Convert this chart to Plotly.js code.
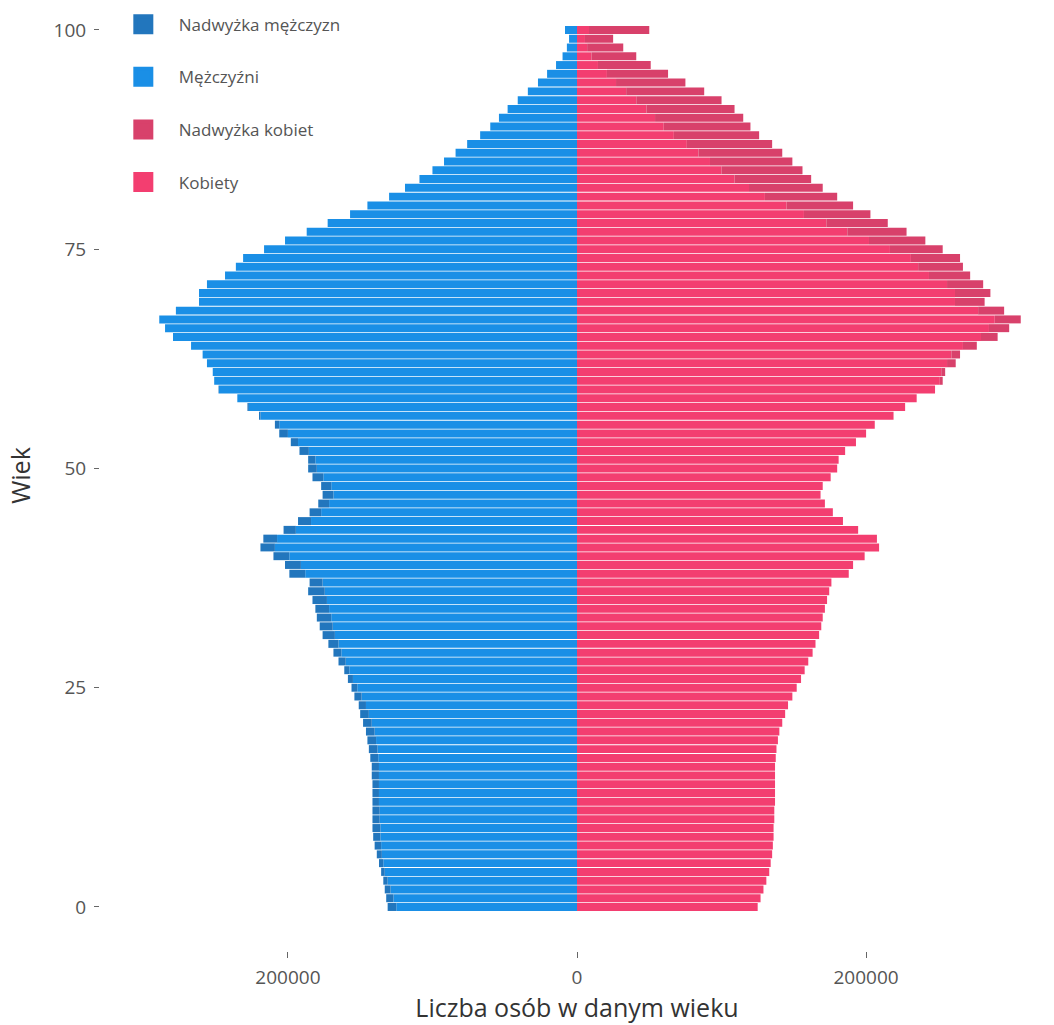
<!DOCTYPE html>
<html>
<head>
<meta charset="utf-8">
<script src="https://cdn.plot.ly/plotly-3.0.1.min.js"></script>
<style>
  html, body { margin: 0; padding: 0; background: #ffffff; }
  #chart { width: 1054px; height: 1025px; }
</style>
</head>
<body>
<div id="chart"></div>
<script>
// Age categories (0 ... 100)
const ages = [
  0, 1, 2, 3, 4, 5, 6, 7, 8, 9,
  10, 11, 12, 13, 14, 15, 16, 17, 18, 19,
  20, 21, 22, 23, 24, 25, 26, 27, 28, 29,
  30, 31, 32, 33, 34, 35, 36, 37, 38, 39,
  40, 41, 42, 43, 44, 45, 46, 47, 48, 49,
  50, 51, 52, 53, 54, 55, 56, 57, 58, 59,
  60, 61, 62, 63, 64, 65, 66, 67, 68, 69,
  70, 71, 72, 73, 74, 75, 76, 77, 78, 79,
  80, 81, 82, 83, 84, 85, 86, 87, 88, 89,
  90, 91, 92, 93, 94, 95, 96, 97, 98, 99,
  100
];

// Number of men at each age
const men = [
  131000, 132000, 133000, 134000, 135500, 137000, 138500, 140000, 141000, 141500,
  141500, 141500, 141500, 141500, 141500, 142000, 142000, 143000, 144000, 145000,
  146000, 148000, 150000, 151000, 154000, 156000, 158500, 161000, 165000, 168500,
  172000, 176000, 178000, 180000, 181000, 183000, 186000, 185000, 199000, 202000,
  210000, 219000, 217000, 203000, 193000, 185000, 179000, 176000, 177000, 183000,
  186000, 186000, 192000, 198000, 206000, 209000, 220000, 228000, 235000, 248000,
  251000, 252000, 256000, 259000, 267000, 279500, 285000, 289000, 277500, 261500,
  261500, 256000, 243500, 236000, 231000, 216500, 202000, 187000, 172500, 157000,
  145000, 130000, 119000, 109000, 100000, 92000, 84000, 76000, 67000, 60000,
  54000, 48000, 41000, 34000, 27000, 20700, 14500, 10000, 7000, 5500,
  8300
];

// Number of women at each age
const women = [
  125000, 127000, 129000, 131000, 133000, 134000, 135000, 135500, 136000, 136000,
  136500, 136500, 137000, 137000, 137000, 137000, 137000, 137500, 138000, 139000,
  140000, 142000, 144000, 146000, 149000, 152000, 155000, 157500, 160000, 163000,
  165000, 167500, 169000, 170000, 171500, 173000, 174500, 176000, 188000, 191000,
  199000, 209000, 207500, 194500, 184000, 177000, 171500, 168500, 170000, 175500,
  180000, 181000, 185500, 193000, 200000, 206000, 219000, 227000, 235000, 247700,
  253000, 254700, 262000, 265000, 276600, 291000, 299000, 307000, 295500, 282000,
  286000, 281000, 272000, 267000, 265000, 253000, 241000, 228000, 215000, 203000,
  191000, 180000, 170000, 162000, 156000, 149000, 142000, 135000, 126000, 120000,
  115000, 109000, 100000, 88000, 75000, 63000, 51000, 41000, 32000, 25000,
  50000
];

// Axis ticks
const xTickVals = [-200000, 0, 200000];
const xTickText = ['200000', '0', '200000'];
const yTickVals = [0, 25, 50, 75, 100];

// Series names and colours
const nameMenSurplus = 'Nadwyżka mężczyzn';
const nameMen = 'Mężczyźni';
const nameWomenSurplus = 'Nadwyżka kobiet';
const nameWomen = 'Kobiety';

const colMenSurplus = '#2276bd';
const colMen = '#1a8fe6';
const colWomenSurplus = '#d8416b';
const colWomen = '#f33e70';

// Derived stacks: common part and surplus part
const common = men.map((m, i) => Math.min(m, women[i]));
const menSurplus = men.map((m, i) => Math.max(m - women[i], 0));
const womenSurplus = women.map((w, i) => Math.max(w - men[i], 0));

const barBase = {
  type: 'bar',
  orientation: 'h',
  y: ages,
  showlegend: false,
  hoverinfo: 'skip'
};

const traces = [
  Object.assign({}, barBase, { name: nameMen, x: common.map(v => -v), marker: { color: colMen } }),
  Object.assign({}, barBase, { name: nameMenSurplus, x: menSurplus.map(v => -v), marker: { color: colMenSurplus } }),
  Object.assign({}, barBase, { name: nameWomen, x: common, marker: { color: colWomen } }),
  Object.assign({}, barBase, { name: nameWomenSurplus, x: womenSurplus, marker: { color: colWomenSurplus } })
];

// Legend entries (legend only)
const legendItems = [
  [nameMenSurplus, colMenSurplus],
  [nameMen, colMen],
  [nameWomenSurplus, colWomenSurplus],
  [nameWomen, colWomen]
];
legendItems.forEach(function (it, k) {
  traces.push({
    type: 'scatter',
    mode: 'markers',
    x: [null],
    y: [null],
    name: it[0],
    legendgroup: 'g' + k,
    legendrank: k + 1,
    showlegend: true,
    hoverinfo: 'skip',
    marker: { symbol: 'square', size: 16, color: it[1], line: { width: 4, color: it[1] } }
  });
});

const layout = {
  width: 1054,
  height: 1025,
  margin: { l: 100, r: 0, t: 0, b: 74 },
  paper_bgcolor: '#ffffff',
  plot_bgcolor: '#ffffff',
  font: { family: 'Open Sans, sans-serif', color: '#555555' },
  barmode: 'relative',
  bargap: 0.09,
  showlegend: true,
  legend: {
    x: 0.0082, y: 0.993, xanchor: 'left', yanchor: 'top',
    traceorder: 'grouped',
    tracegroupgap: 27.5,
    itemwidth: 61,
    font: { size: 17, color: '#555555' },
    bgcolor: 'rgba(0,0,0,0)'
  },
  xaxis: {
    range: [-330000, 330000],
    tickvals: xTickVals,
    ticktext: xTickText,
    ticks: 'outside',
    ticklen: 6,
    tickcolor: '#666666',
    ticklabelstandoff: 3,
    showgrid: false,
    zeroline: false,
    showline: false,
    tickfont: { size: 19, color: '#555555' },
    title: { text: 'Liczba osób w danym wieku', font: { size: 25, color: '#333333' }, standoff: 8 },
    automargin: false
  },
  yaxis: {
    range: [-5.02, 103.42],
    tickvals: yTickVals,
    ticks: 'outside',
    ticklen: 5,
    tickcolor: '#666666',
    ticklabelstandoff: 4,
    showgrid: false,
    zeroline: false,
    showline: false,
    tickfont: { size: 19, color: '#555555' },
    title: { text: 'Wiek', font: { size: 25, color: '#333333' }, standoff: 15 },
    automargin: false
  }
};

Plotly.newPlot('chart', traces, layout, { displayModeBar: false, staticPlot: true });
</script>
</body>
</html>
